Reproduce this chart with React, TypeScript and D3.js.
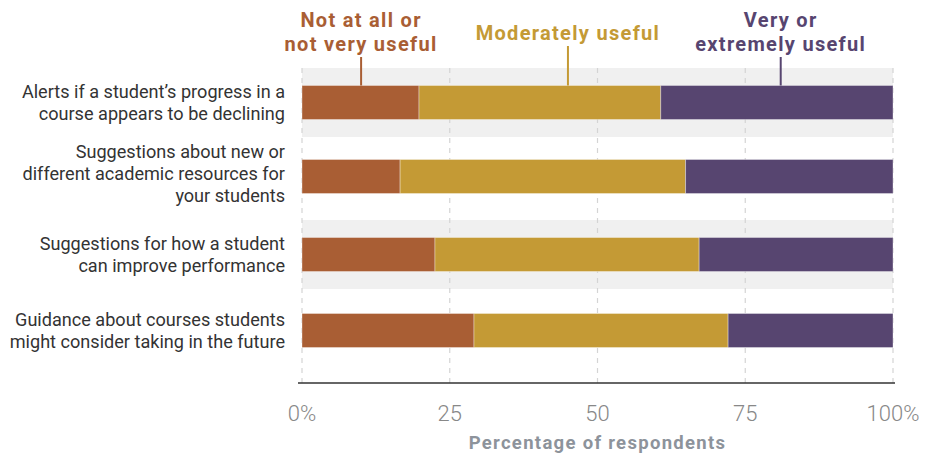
import React from "react";
import * as d3 from "d3";

const categories: string[][] = [
  ["Alerts if a student’s progress in a", "course appears to be declining"],
  ["Suggestions about new or", "different academic resources for", "your students"],
  ["Suggestions for how a student", "can improve performance"],
  ["Guidance about courses students", "might consider taking in the future"],
];
const notUseful = [19.8, 16.6, 22.5, 29.1];
const moderately = [40.9, 48.3, 44.7, 43.0];
const veryUseful = [39.3, 35.1, 32.8, 27.9];
const seriesNames = [["Not at all or", "not very useful"], ["Moderately useful"], ["Very or", "extremely useful"]];
const seriesColors = ["#a95e34", "#c49a35", "#574570"];
const tickValues = [0, 25, 50, 75, 100];
const tickLabels = ["0%", "25", "50", "75", "100%"];
const axisTitle = "Percentage of respondents";
const legendAnchor = [10, 45, 81];

export default function App() {
  const W = 930, H = 456;
  const x = d3.scaleLinear().domain([0, 100]).range([302, 893]);
  const y = d3.scaleBand<number>().domain(d3.range(categories.length)).range([64.5, 368.5]).paddingInner(0);
  const barH = 34;
  const rows = categories.map((_, i) => [notUseful[i], moderately[i], veryUseful[i]]);
  const stacked = rows.map((r) => {
    let acc = 0;
    return r.map((v) => { const s = acc; acc += v; return [s, acc]; });
  });
  const axisY = 383;
  const font = "Roboto, 'Open Sans', sans-serif";
  return (
    <svg width={W} height={H} style={{ position: "absolute", left: 0, top: 0, background: "#fff" }}>
      {categories.map((_, i) => i % 2 === 0 ? (
        <rect key={"b" + i} x={x(0)} width={x(100) - x(0)} y={(y(i) as number) + 3.5} height={69} fill="#f0f0f0" />
      ) : null)}
      {tickValues.map((t) => (
        <line key={"g" + t} x1={x(t)} x2={x(t)} y1={68} y2={axisY} stroke="#d4d4d4" strokeWidth={1.2} strokeDasharray="5,5" />
      ))}
      {stacked.map((segs, i) => segs.map((s, j) => (
        <rect key={`r${i}-${j}`} x={x(s[0])} width={x(s[1]) - x(s[0])}
          y={(y(i) as number) + y.bandwidth() / 2 - barH / 2 - (i === 1 ? 2 : 0)} height={barH}
          fill={seriesColors[j]} stroke="#ffffff" strokeOpacity={0.35} strokeWidth={1} />
      )))}
      <line x1={x(0) - 4} x2={x(100) + 2} y1={axisY} y2={axisY} stroke="#333" strokeWidth={1.5} />
      {tickValues.map((t, i) => (
        <text key={"t" + t} x={x(t)} y={421} textAnchor="middle" fontFamily={font} fontWeight={300} fontSize={22} fill="#888">{tickLabels[i]}</text>
      ))}
      <text x={x(50)} y={449} textAnchor="middle" fontFamily={font} fontWeight={700} fontSize={18.5} fill="#8d939b" letterSpacing={1.3}>{axisTitle}</text>
      {categories.map((lines, i) => {
        const cy = (y(i) as number) + y.bandwidth() / 2 - (i === 1 ? 5 : 0);
        const lh = 22;
        const start = cy - ((lines.length - 1) * lh) / 2;
        return (
          <text key={"c" + i} textAnchor="end" fontFamily={font} fontSize={18.1} fill="#333">
            {lines.map((l, k) => (
              <tspan key={k} x={285} y={start + k * lh + 6.5}>{l}</tspan>
            ))}
          </text>
        );
      })}
      {seriesNames.map((lines, j) => {
        const lx = x(legendAnchor[j]);
        const barTop = (y(0) as number) + y.bandwidth() / 2 - barH / 2;
        const lastY = lines.length === 1 ? 33 : 44;
        return (
          <g key={"l" + j}>
            <line x1={lx} x2={lx} y1={lastY + 13} y2={barTop} stroke={seriesColors[j]} strokeWidth={2} />
            <text textAnchor="middle" fontFamily={font} fontWeight={700} fontSize={20} fill={seriesColors[j]} letterSpacing={1.3}>
              {lines.map((l, k) => (
                <tspan key={k} x={lx} y={lastY + 7 - (lines.length - 1 - k) * 24}>{l}</tspan>
              ))}
            </text>
          </g>
        );
      })}
    </svg>
  );
}
